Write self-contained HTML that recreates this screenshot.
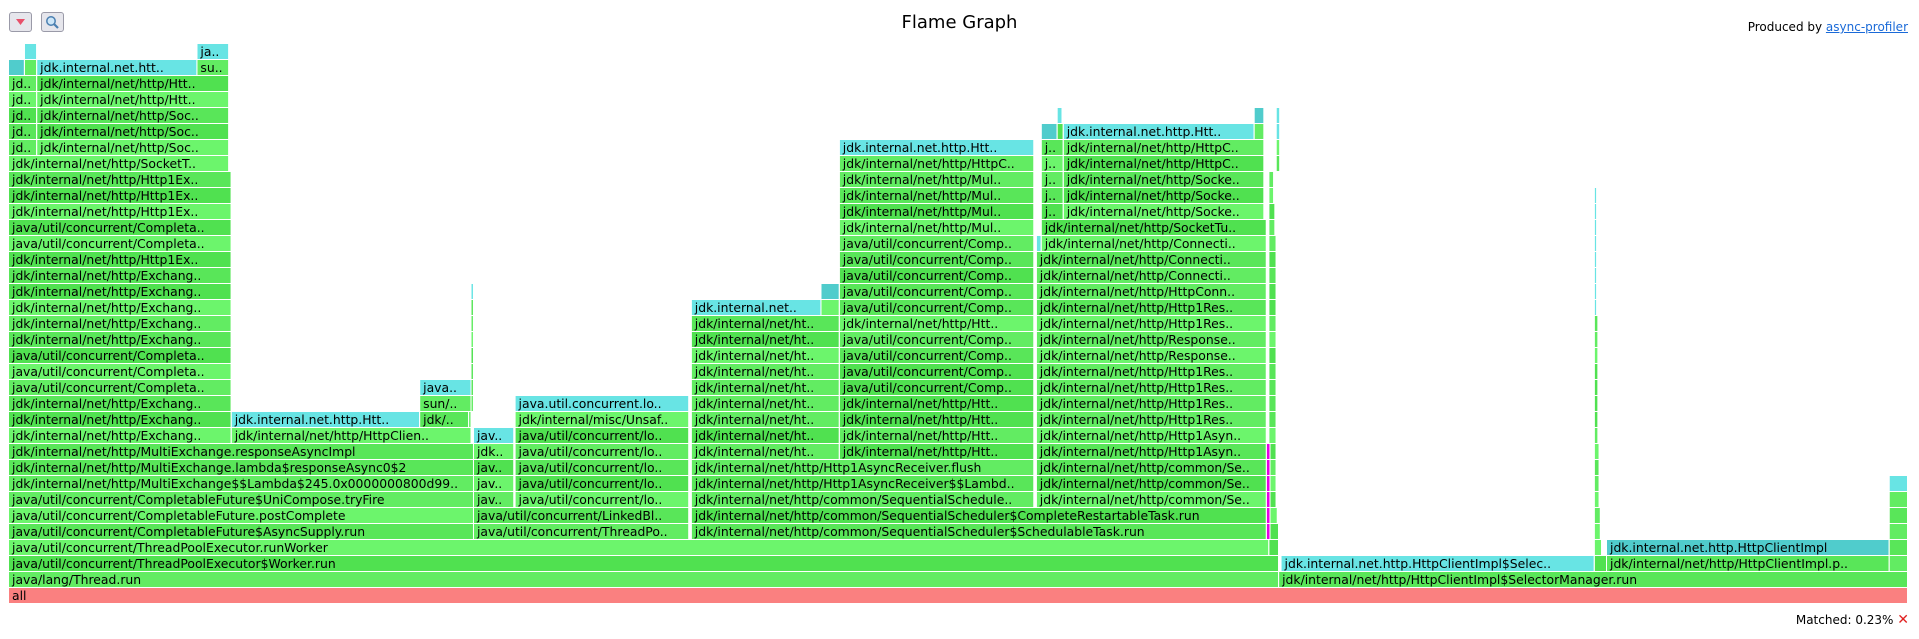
<!DOCTYPE html>
<html><head><meta charset="utf-8"><title>Flame Graph</title>
<style>
html,body{margin:0;padding:0;background:#fff;width:1919px;height:639px;overflow:hidden;font-family:"DejaVu Sans","Liberation Sans",sans-serif;}
#title{position:absolute;left:0;width:1919px;top:12px;text-align:center;font-size:18px;color:#000;}
#produced{position:absolute;right:11px;top:20px;font-size:12px;color:#000;}
#produced span{color:#1a6ad8;text-decoration:underline;}
.btn{position:absolute;top:12px;width:23px;height:20px;border:1px solid #9a9aa8;border-radius:3px;background:#e6e6ec;box-sizing:border-box;}
#matched{position:absolute;right:10px;top:612px;font-size:12px;color:#000;}
#matched b{color:#e02020;font-weight:normal;font-size:14px;}
#fg{position:absolute;left:0;top:0;}
</style></head>
<body>
<div class="btn" style="left:9px"><svg width="21" height="18" style="position:absolute;left:0;top:0"><polygon points="6,6 15,6 10.5,12" fill="#e8506a"/></svg></div>
<div class="btn" style="left:41px"><svg width="21" height="18" style="position:absolute;left:0;top:0"><circle cx="9" cy="8" r="4.2" fill="#cde6f8" stroke="#4a7fb0" stroke-width="1.5"/><line x1="12" y1="11" x2="16" y2="15" stroke="#4a7fb0" stroke-width="2.2"/></svg></div>
<div id="title">Flame Graph</div>
<div id="produced">Produced by <span>async-profiler</span></div>
<div id="matched">Matched: 0.23% <b>✕</b></div>
<svg id="fg" width="1919" height="639"></svg>
<script>
const totalSamples = 1552;
const levelStarts = [
[0],
[0,1038],
[0,1040,1296,1306,1537],
[0,1030,1296,1306,1537],
[0,380,558,1028,1031,1296,1537],
[0,380,558,1028,1031,1296,1537],
[0,380,414,558,840,1028,1031,1296,1537],
[0,380,414,558,840,1028,1031,1296,1537],
[0,380,414,558,840,1028,1031,1296],
[0,380,414,558,679,840,1028,1031,1296],
[0,182,380,414,558,679,840,1030,1296],
[0,182,336,376,414,558,679,840,1030,1296],
[0,336,378,414,558,679,840,1030,1296],
[0,336,378,558,679,840,1030,1296],
[0,378,558,679,840,1030,1296],
[0,378,558,679,840,1030,1296],
[0,378,558,679,840,1030,1296],
[0,378,558,679,840,1030,1296],
[0,378,558,664,679,840,1030,1296],
[0,378,664,679,840,1030,1296],
[0,679,840,1030,1296],
[0,679,840,1030,1296],
[0,679,840,844,1030,1296],
[0,679,844,1030,1296],
[0,679,844,862,1030,1296],
[0,679,844,862,1030,1296],
[0,679,844,862,1030],
[0,679,844,862,1036],
[0,23,679,844,862,1036],
[0,23,844,857,862,1018,1036],
[0,23,857,1018,1036],
[0,23],
[0,23],
[0,13,23,154],
[13,154]
];
const levelWidths = [
[1552],
[1038,514],
[1038,256,10,231,15],
[1030,8,6,231,15],
[380,176,470,3,7,5,15],
[380,176,470,3,6,5,15],
[380,33,142,280,188,3,5,4,15],
[380,33,142,280,188,3,5,4,15],
[380,33,142,280,188,3,5,4],
[380,33,142,121,159,188,3,5,4],
[182,196,33,142,121,159,188,6,3],
[182,154,40,2,142,121,159,188,6,3],
[182,42,2,142,121,159,188,6,3],
[182,42,2,121,159,188,6,3],
[182,2,121,159,188,6,3],
[182,2,121,159,188,6,3],
[182,2,121,159,188,6,3],
[182,2,121,159,188,6,3],
[182,2,106,15,159,188,6,2],
[182,2,15,159,188,6,2],
[182,159,188,6,2],
[182,159,188,6,2],
[182,159,4,184,6,2],
[182,159,184,5,2],
[182,159,18,164,5,2],
[182,159,18,164,4,2],
[182,159,18,164,4],
[180,159,18,164,3],
[23,157,159,18,164,3],
[23,157,13,5,156,8,3],
[23,157,4,8,3],
[23,157],
[23,157],
[13,10,131,26],
[10,26]
];
const levelLabels = [
["all"],
["java/lang/Thread.run","jdk/internal/net/http/HttpClientImpl$SelectorManager.run"],
["java/util/concurrent/ThreadPoolExecutor$Worker.run","jdk.internal.net.http.HttpClientImpl$Selec..","","jdk/internal/net/http/HttpClientImpl.p..",""],
["java/util/concurrent/ThreadPoolExecutor.runWorker","","","jdk.internal.net.http.HttpClientImpl",""],
["java/util/concurrent/CompletableFuture$AsyncSupply.run","java/util/concurrent/ThreadPo..","jdk/internal/net/http/common/SequentialScheduler$SchedulableTask.run","","","",""],
["java/util/concurrent/CompletableFuture.postComplete","java/util/concurrent/LinkedBl..","jdk/internal/net/http/common/SequentialScheduler$CompleteRestartableTask.run","","","",""],
["java/util/concurrent/CompletableFuture$UniCompose.tryFire","jav..","java/util/concurrent/lo..","jdk/internal/net/http/common/SequentialSchedule..","jdk/internal/net/http/common/Se..","","","",""],
["jdk/internal/net/http/MultiExchange$$Lambda$245.0x0000000800d99..","jav..","java/util/concurrent/lo..","jdk/internal/net/http/Http1AsyncReceiver$$Lambd..","jdk/internal/net/http/common/Se..","","","",""],
["jdk/internal/net/http/MultiExchange.lambda$responseAsync0$2","jav..","java/util/concurrent/lo..","jdk/internal/net/http/Http1AsyncReceiver.flush","jdk/internal/net/http/common/Se..","","",""],
["jdk/internal/net/http/MultiExchange.responseAsyncImpl","jdk..","java/util/concurrent/lo..","jdk/internal/net/ht..","jdk/internal/net/http/Htt..","jdk/internal/net/http/Http1Asyn..","","",""],
["jdk/internal/net/http/Exchang..","jdk/internal/net/http/HttpClien..","jav..","java/util/concurrent/lo..","jdk/internal/net/ht..","jdk/internal/net/http/Htt..","jdk/internal/net/http/Http1Asyn..","",""],
["jdk/internal/net/http/Exchang..","jdk.internal.net.http.Htt..","jdk/..","","jdk/internal/misc/Unsaf..","jdk/internal/net/ht..","jdk/internal/net/http/Htt..","jdk/internal/net/http/Http1Res..","",""],
["jdk/internal/net/http/Exchang..","sun/..","","java.util.concurrent.lo..","jdk/internal/net/ht..","jdk/internal/net/http/Htt..","jdk/internal/net/http/Http1Res..","",""],
["java/util/concurrent/Completa..","java..","","jdk/internal/net/ht..","java/util/concurrent/Comp..","jdk/internal/net/http/Http1Res..","",""],
["java/util/concurrent/Completa..","","jdk/internal/net/ht..","java/util/concurrent/Comp..","jdk/internal/net/http/Http1Res..","",""],
["java/util/concurrent/Completa..","","jdk/internal/net/ht..","java/util/concurrent/Comp..","jdk/internal/net/http/Response..","",""],
["jdk/internal/net/http/Exchang..","","jdk/internal/net/ht..","java/util/concurrent/Comp..","jdk/internal/net/http/Response..","",""],
["jdk/internal/net/http/Exchang..","","jdk/internal/net/ht..","jdk/internal/net/http/Htt..","jdk/internal/net/http/Http1Res..","",""],
["jdk/internal/net/http/Exchang..","","jdk.internal.net..","","java/util/concurrent/Comp..","jdk/internal/net/http/Http1Res..","",""],
["jdk/internal/net/http/Exchang..","","","java/util/concurrent/Comp..","jdk/internal/net/http/HttpConn..","",""],
["jdk/internal/net/http/Exchang..","java/util/concurrent/Comp..","jdk/internal/net/http/Connecti..","",""],
["jdk/internal/net/http/Http1Ex..","java/util/concurrent/Comp..","jdk/internal/net/http/Connecti..","",""],
["java/util/concurrent/Completa..","java/util/concurrent/Comp..","","jdk/internal/net/http/Connecti..","",""],
["java/util/concurrent/Completa..","jdk/internal/net/http/Mul..","jdk/internal/net/http/SocketTu..","",""],
["jdk/internal/net/http/Http1Ex..","jdk/internal/net/http/Mul..","j..","jdk/internal/net/http/Socke..","",""],
["jdk/internal/net/http/Http1Ex..","jdk/internal/net/http/Mul..","j..","jdk/internal/net/http/Socke..","",""],
["jdk/internal/net/http/Http1Ex..","jdk/internal/net/http/Mul..","j..","jdk/internal/net/http/Socke..",""],
["jdk/internal/net/http/SocketT..","jdk/internal/net/http/HttpC..","j..","jdk/internal/net/http/HttpC..",""],
["jd..","jdk/internal/net/http/Soc..","jdk.internal.net.http.Htt..","j..","jdk/internal/net/http/HttpC..",""],
["jd..","jdk/internal/net/http/Soc..","","","jdk.internal.net.http.Htt..","",""],
["jd..","jdk/internal/net/http/Soc..","","",""],
["jd..","jdk/internal/net/http/Htt.."],
["jd..","jdk/internal/net/http/Htt.."],
["","","jdk.internal.net.htt..","su.."],
["","ja.."]
];
const levelKinds = [
["r"],
["g","g"],
["g","c","g","g","g"],
["g","g","g","d","g"],
["g","g","g","m","g","g","g"],
["g","g","g","m","g","g","g"],
["g","g","g","g","g","m","g","g","g"],
["g","g","g","g","g","m","g","g","c"],
["g","g","g","g","g","m","g","g"],
["g","g","g","g","g","g","m","g","g"],
["g","g","c","g","g","g","g","g","g"],
["g","c","g","g","g","g","g","g","g","g"],
["g","g","g","c","g","g","g","g","g"],
["g","c","g","g","g","g","g","g"],
["g","g","g","g","g","g","g"],
["g","g","g","g","g","g","g"],
["g","g","g","g","g","g","g"],
["g","g","g","g","g","g","g"],
["g","g","c","g","g","g","g","c"],
["g","c","d","g","g","g","c"],
["g","g","g","g","c"],
["g","g","g","g","c"],
["g","g","c","g","g","c"],
["g","g","g","g","c"],
["g","g","g","g","g","c"],
["g","g","g","g","g","c"],
["g","g","g","g","g"],
["g","g","g","g","g"],
["g","g","c","g","g","g"],
["g","g","d","g","c","g","c"],
["g","g","c","d","c"],
["g","g"],
["g","g"],
["d","g","c","g"],
["c","c"]
];

const X0 = 9, PLOT_W = 1899, ROW = 16, BASE_Y = 588;
const greens = ["#50e150","#59e659","#62ec62","#6cf56c"];
const kindColor = {r:"#fa8080", c:"#68e4e4", d:"#50cccc", m:"#e600e6"};
function xScale(v){ return X0 + v / totalSamples * PLOT_W; }
function yScale(level){ return BASE_Y - level * ROW; }
function greenFor(label, level, i){
  let h = level * 7 + i * 3;
  for (let k = 0; k < label.length; k++) h = (h * 31 + label.charCodeAt(k)) >>> 0;
  return greens[h % greens.length];
}
const NS = "http://www.w3.org/2000/svg";
const svg = document.getElementById("fg");
for (let L = 0; L < levelStarts.length; L++) {
  for (let i = 0; i < levelStarts[L].length; i++) {
    const x = xScale(levelStarts[L][i]);
    const w = xScale(levelStarts[L][i] + levelWidths[L][i]) - x;
    const y = yScale(L);
    const kind = levelKinds[L][i];
    const label = levelLabels[L][i];
    const g = document.createElementNS(NS, "svg");
    
    
    g.setAttribute("x", x.toFixed(2));
    g.setAttribute("y", y);
    g.setAttribute("width", Math.max(w - 1, 1).toFixed(2));
    g.setAttribute("height", 15);
    g.setAttribute("overflow", "hidden");
    const r = document.createElementNS(NS, "rect");
    
    
    r.setAttribute("x", 0);
    r.setAttribute("y", 0);
    r.setAttribute("width", "100%");
    r.setAttribute("height", 15);
    r.setAttribute("fill", kind === "g" ? greenFor(label, L, i) : kindColor[kind]);
    g.appendChild(r);
    if (label) {
      const t = document.createElementNS(NS, "text");
      
      
      t.setAttribute("x", 3);
      t.setAttribute("y", 12);
      t.setAttribute("font-size", "12.4");
      t.setAttribute("font-family", "DejaVu Sans, Liberation Sans, sans-serif");
      t.setAttribute("fill", "#000");
      t.textContent = label;
      g.appendChild(t);
    }
    svg.appendChild(g);
  }
}
</script>
</body></html>
